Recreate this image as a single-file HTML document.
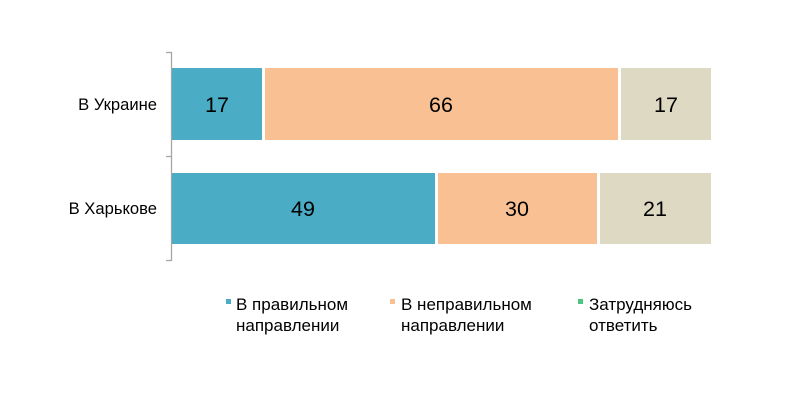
<!DOCTYPE html><html><head><meta charset="utf-8"><style>
body{margin:0;width:800px;height:401px;background:#fff;font-family:"Liberation Sans",sans-serif;}
</style></head><body>
<svg width="800" height="401" xmlns="http://www.w3.org/2000/svg" font-family="Liberation Sans, sans-serif">
<g stroke="#a6a6a6" stroke-width="1.3" fill="none">
<line x1="171.5" y1="52" x2="171.5" y2="261"/>
<line x1="166" y1="52.5" x2="171.5" y2="52.5"/>
<line x1="166" y1="156.5" x2="171.5" y2="156.5"/>
<line x1="166" y1="260.5" x2="171.5" y2="260.5"/>
</g>
<g>
<rect x="172" y="68" width="90" height="72" fill="#4bacc6"/>
<rect x="265" y="68" width="353" height="72" fill="#f9c093"/>
<rect x="621" y="68" width="90" height="72" fill="#ddd9c3"/>
<rect x="172" y="173" width="263" height="71" fill="#4bacc6"/>
<rect x="438" y="173" width="159" height="71" fill="#f9c093"/>
<rect x="600" y="173" width="111" height="71" fill="#ddd9c3"/>
</g>
<g font-size="21.5" fill="#000" text-anchor="middle">
<text x="217" y="112">17</text>
<text x="441" y="112">66</text>
<text x="666" y="112">17</text>
<text x="303" y="216">49</text>
<text x="517" y="216">30</text>
<text x="655" y="216">21</text>
</g>
<g font-size="16.6" fill="#000" text-anchor="end">
<text x="157" y="110">В Украине</text>
<text x="157" y="214">В Харькове</text>
</g>
<g font-size="17" fill="#000">
<rect x="226" y="299" width="5" height="5" fill="#4bacc6"/>
<text x="236" y="310">В правильном</text><text x="236" y="331">направлении</text>
<rect x="390" y="299" width="5" height="5" fill="#f9c093"/>
<text x="401" y="310">В неправильном</text><text x="401" y="331">направлении</text>
<rect x="578" y="299" width="5" height="5" fill="#4bc67e"/>
<text x="589" y="310">Затрудняюсь</text><text x="589" y="331">ответить</text>
</g>
</svg>
</body></html>
